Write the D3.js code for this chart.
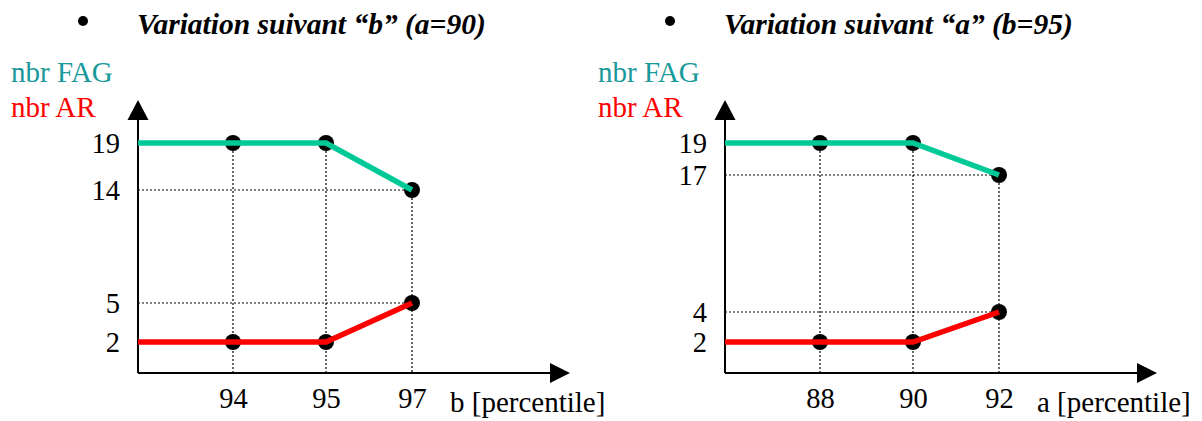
<!DOCTYPE html>
<html>
<head>
<meta charset="utf-8">
<script src="https://cdn.jsdelivr.net/npm/d3@7"></script>
<style>
  html, body { margin: 0; padding: 0; background: #ffffff; }
  svg { display: block; }
</style>
</head>
<body>
<svg id="chart" width="1202" height="421"></svg>
<script>
// ---- data ----
const titles = ["Variation suivant “b” (a=90)", "Variation suivant “a” (b=95)"];
const xAxisLabels = ["b [percentile]", "a [percentile]"];
const seriesNames = ["nbr FAG", "nbr AR"];

const categoriesB = ["94", "95", "97"];
const fagB = [19, 19, 14];
const arB = [2, 2, 5];
const yTicksB = [2, 5, 14, 19];

const categoriesA = ["88", "90", "92"];
const fagA = [19, 19, 17];
const arA = [2, 2, 4];
const yTicksA = [2, 4, 17, 19];

// ---- styling ----
const FONT = "Liberation Serif, Times New Roman, serif";
const TEAL_LINE = "#00c998";
const TEAL_TEXT = "#17999a";
const RED = "#ff0000";

const svg = d3.select("#chart");

const panels = [
  { ox: 138, title: titles[0], xLabel: xAxisLabels[0], cats: categoriesB, fag: fagB, ar: arB, ticks: yTicksB,
    yRange: [373, 342, 303, 190, 143] },
  { ox: 725, title: titles[1], xLabel: xAxisLabels[1], cats: categoriesA, fag: fagA, ar: arA, ticks: yTicksA,
    yRange: [373, 342, 312, 175, 143] }
];

const oy = 373, topY = 100, axisLen = 432;

panels.forEach(p => {
  const g = svg.append("g");
  const ox = p.ox;

  // scales: index -1 = origin (y axis), 0..n-1 = categories (schematic spacing)
  const x = d3.scaleLinear().domain([-1, 0, 1, 2]).range([ox, ox + 95, ox + 188, ox + 274]);
  const y = d3.scaleLinear().domain([0, ...p.ticks]).range(p.yRange);

  // title with bullet
  g.append("circle").attr("cx", ox - 55).attr("cy", 21).attr("r", 5).attr("fill", "#000");
  g.append("text").attr("x", ox - 1).attr("y", 34)
    .attr("font-family", FONT).attr("font-size", 29.5).attr("font-weight", "bold").attr("font-style", "italic")
    .attr("fill", "#000").text(p.title);

  // series names
  g.append("text").attr("x", ox - 127).attr("y", 82).attr("font-family", FONT).attr("font-size", 29)
    .attr("fill", TEAL_TEXT).text(seriesNames[0]);
  g.append("text").attr("x", ox - 127).attr("y", 117).attr("font-family", FONT).attr("font-size", 29)
    .attr("fill", RED).text(seriesNames[1]);

  // dotted guides
  const guides = g.append("g").attr("stroke", "#000").attr("stroke-width", 1.2).attr("stroke-dasharray", "2,2").attr("fill", "none");
  p.cats.forEach((c, i) => {
    guides.append("line").attr("x1", x(i)).attr("x2", x(i)).attr("y1", y(p.fag[i])).attr("y2", oy);
  });
  const last = p.cats.length - 1;
  [p.fag[last], p.ar[last]].forEach(v => {
    guides.append("line").attr("x1", x(-1)).attr("x2", x(last)).attr("y1", y(v)).attr("y2", y(v));
  });

  // axes lines with arrows
  g.append("line").attr("x1", ox).attr("x2", ox).attr("y1", oy).attr("y2", topY + 18)
    .attr("stroke", "#000").attr("stroke-width", 2);
  g.append("path").attr("d", `M${ox},${topY} L${ox - 10.5},${topY + 20} L${ox + 10.5},${topY + 20} Z`).attr("fill", "#000");
  g.append("line").attr("x1", ox).attr("x2", ox + axisLen - 18).attr("y1", oy).attr("y2", oy)
    .attr("stroke", "#000").attr("stroke-width", 2);
  g.append("path").attr("d", `M${ox + axisLen},${oy} L${ox + axisLen - 20},${oy - 10} L${ox + axisLen - 20},${oy + 10} Z`).attr("fill", "#000");

  // y tick labels via d3 axis
  const yAxis = g.append("g").attr("transform", `translate(${ox},0)`)
    .call(d3.axisLeft(y).tickValues(p.ticks).tickSize(0).tickPadding(18).tickFormat(d3.format("d")));
  yAxis.select(".domain").remove();
  yAxis.attr("font-family", FONT).attr("font-size", 28.5);
  yAxis.selectAll("text").attr("fill", "#000");

  // x tick labels via d3 axis
  const xAxis = g.append("g").attr("transform", `translate(0,${oy})`)
    .call(d3.axisBottom(x).tickValues(d3.range(p.cats.length)).tickSize(0).tickPadding(15).tickFormat(i => p.cats[i]));
  xAxis.select(".domain").remove();
  xAxis.attr("font-family", FONT).attr("font-size", 28.5);
  xAxis.selectAll("text").attr("fill", "#000");

  // x axis label
  g.append("text").attr("x", ox + 312).attr("y", 412).attr("font-family", FONT).attr("font-size", 29)
    .attr("fill", "#000").text(p.xLabel);

  // dots
  const pts = [];
  p.cats.forEach((c, i) => { pts.push([i, p.fag[i]]); pts.push([i, p.ar[i]]); });
  g.append("g").selectAll("circle").data(pts).join("circle")
    .attr("cx", d => x(d[0])).attr("cy", d => y(d[1])).attr("r", 8).attr("fill", "#000");

  // lines (start at the y axis with first value)
  const line = d3.line().x(d => x(d[0])).y(d => y(d[1]));
  const mk = vals => [[-1, vals[0]], ...vals.map((v, i) => [i, v])];
  g.append("path").attr("d", line(mk(p.fag))).attr("fill", "none").attr("stroke", TEAL_LINE).attr("stroke-width", 5.5);
  g.append("path").attr("d", line(mk(p.ar))).attr("fill", "none").attr("stroke", RED).attr("stroke-width", 5.5);
});
</script>
</body>
</html>
